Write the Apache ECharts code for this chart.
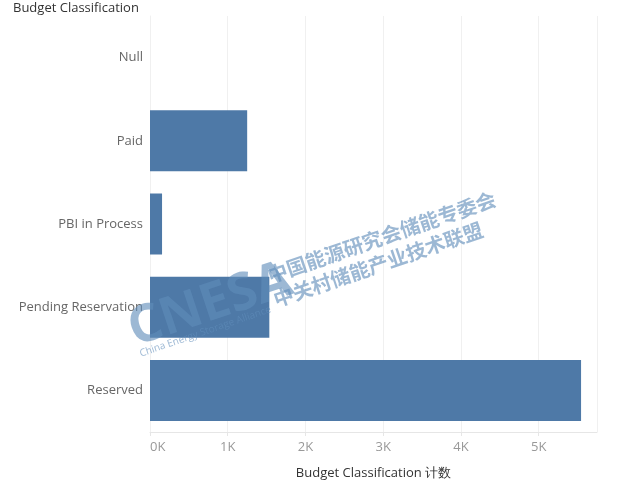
<!DOCTYPE html>
<html><head><meta charset="utf-8">
<script src="https://cdn.jsdelivr.net/npm/echarts@6/dist/echarts.min.js"></script>
<style>html,body{margin:0;padding:0;background:#fff}#c{width:644px;height:493px}</style>
</head><body><div id="c"></div>
<script>
const categories = ['Null', 'Paid', 'PBI in Process', 'Pending Reservation', 'Reserved'];
const counts = [0, 1250, 155, 1535, 5545];
const tickLabels = ['0K', '1K', '2K', '3K', '4K', '5K'];

const chart = echarts.init(document.getElementById('c'));
const font = '"Open Sans", "Noto Sans", sans-serif';
const wm = 'rgba(95,140,185,0.62)';
chart.setOption({
  animation: false,
  textStyle: { fontFamily: font },
  title: { text: 'Budget Classification', left: 8, top: -3,
    textStyle: { fontSize: 13, fontWeight: 'normal', color: '#333', fontFamily: font } },
  grid: { left: 150, right: 47, top: 16, bottom: 61, containLabel: false },
  xAxis: {
    type: 'value', min: 0, max: 5750, interval: 1000,
    name: 'Budget Classification 计数', nameLocation: 'middle', nameGap: 35,
    nameTextStyle: { fontSize: 13, color: '#333', fontFamily: font },
    axisLine: { show: true, lineStyle: { color: '#e6e6e6' } },
    axisTick: { show: true, length: 4, lineStyle: { color: '#e6e6e6' } },
    splitLine: { show: true, lineStyle: { color: '#f0f0f0' } },
    axisLabel: { color: '#999', fontSize: 13, margin: 9, alignMinLabel: 'left', showMaxLabel: false,
      formatter: v => (v % 1000 === 0 ? tickLabels[v / 1000] : '') }
  },
  yAxis: {
    type: 'category', data: categories, inverse: true,
    axisLine: { show: true, lineStyle: { color: '#f0f0f0' } },
    axisTick: { show: false },
    axisLabel: { color: '#666', fontSize: 13, margin: 7 }
  },
  series: [{ type: 'bar', data: counts, barWidth: 61, itemStyle: { color: '#4e79a7' } }],
  graphic: [
    { type: 'text', x: 130, y: 332, rotation: 0.32, z: 100,
      style: { text: 'CNESA', fontSize: 52, fontWeight: 'bold', fill: wm, fontFamily: font, textVerticalAlign: 'middle' } },
    { type: 'text', x: 140, y: 354, rotation: 0.33, z: 100,
      style: { text: 'China Energy Storage Alliance', fontSize: 10, fill: wm, fontFamily: font, textVerticalAlign: 'middle' } },
    { type: 'text', x: 268, y: 276, rotation: 0.33, z: 100,
      style: { text: '中国能源研究会储能专委会', fontSize: 20, fontWeight: 'bold', fill: wm, fontFamily: '"Noto Sans CJK SC"', textVerticalAlign: 'middle' } },
    { type: 'text', x: 274, y: 300, rotation: 0.33, z: 100,
      style: { text: '中关村储能产业技术联盟', fontSize: 20, fontWeight: 'bold', fill: wm, fontFamily: '"Noto Sans CJK SC"', textVerticalAlign: 'middle' } }
  ]
});
</script></body></html>
